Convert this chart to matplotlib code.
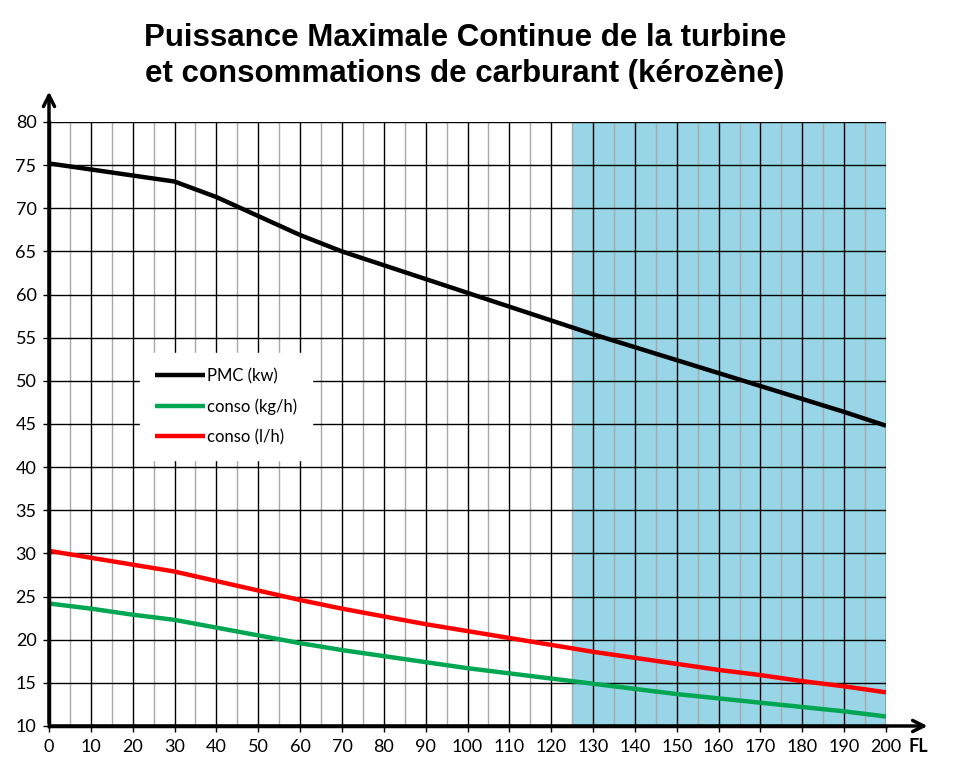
import matplotlib
matplotlib.use("Agg")
import matplotlib.pyplot as plt
from matplotlib import font_manager

fl = [0, 10, 20, 30, 40, 50, 60, 70, 80, 90, 100, 110, 120, 130, 140, 150, 160, 170, 180, 190, 200]
pmc_kw = [75.2, 74.5, 73.8, 73.1, 71.3, 69.1, 66.9, 65.0, 63.4, 61.8, 60.2, 58.6, 57.0, 55.4, 53.9, 52.4, 50.9, 49.4, 47.9, 46.4, 44.8]
conso_kgh = [24.2, 23.6, 22.9, 22.3, 21.4, 20.5, 19.6, 18.8, 18.1, 17.4, 16.7, 16.1, 15.5, 14.9, 14.3, 13.7, 13.2, 12.7, 12.2, 11.7, 11.1]
conso_lh = [30.3, 29.5, 28.7, 27.9, 26.8, 25.7, 24.6, 23.6, 22.7, 21.8, 21.0, 20.2, 19.4, 18.6, 17.9, 17.2, 16.5, 15.9, 15.2, 14.6, 13.9]
zone_start, zone_end = 125, 200
x_ticks = list(range(0, 201, 10))
y_ticks = list(range(10, 81, 5))
title = "Puissance Maximale Continue de la turbine\net consommations de carburant (kérozène)"

avail = {f.name for f in font_manager.fontManager.ttflist}
title_font = "Liberation Sans Narrow" if "Liberation Sans Narrow" in avail else "Liberation Sans"
tick_font = ["Lato", "DejaVu Sans"]

fig = plt.figure(figsize=(9.6, 7.68), dpi=100)
ax = fig.add_axes([49/960, 1-726/768, (886-49)/960, (726-122)/768])

ax.axvspan(zone_start, zone_end, color="#98d5e6", zorder=0, lw=0)

for v in range(5, 200, 10):
    ax.axvline(v, color="#a8a8a8", lw=1.0, zorder=1)
for v in range(10, 201, 10):
    ax.axvline(v, color="black", lw=1.0, zorder=1.2)
for h in range(15, 81, 5):
    ax.axhline(h, color="black", lw=1.0, zorder=1.2)

ax.plot(fl, pmc_kw, color="black", lw=3.2, label="PMC (kw)", zorder=3, solid_capstyle="butt")
ax.plot(fl, conso_kgh, color="#00a651", lw=3.2, label="conso (kg/h)", zorder=3, solid_capstyle="butt")
ax.plot(fl, conso_lh, color="#ff0000", lw=3.2, label="conso (l/h)", zorder=3, solid_capstyle="butt")

ax.set_xlim(0, 200)
ax.set_ylim(10, 80)
ax.set_xticks(x_ticks)
ax.set_yticks(y_ticks)
ax.tick_params(axis="both", length=4, width=1, labelsize=13, pad=5)
for lab in ax.get_xticklabels() + ax.get_yticklabels():
    lab.set_family(tick_font)

for s in ["top", "right"]:
    ax.spines[s].set_visible(False)
for s in ["left", "bottom"]:
    ax.spines[s].set_linewidth(2.5)
    ax.spines[s].set_zorder(4)

ax.annotate("", xy=(0, 1.055), xytext=(0, 0), xycoords="axes fraction",
            arrowprops=dict(arrowstyle="->,head_length=0.8,head_width=0.4", lw=2.5, color="black"),
            annotation_clip=False)
ax.annotate("", xy=(1.053, 0), xytext=(0, 0), xycoords="axes fraction",
            arrowprops=dict(arrowstyle="->,head_length=0.8,head_width=0.4", lw=2.5, color="black"),
            annotation_clip=False)

fig.text(918/960, 1-746/768, "FL", fontsize=13, fontweight="bold", family=tick_font,
         ha="center", va="center")

leg = ax.legend(loc="upper left", bbox_to_anchor=((140-49)/837, (726-353)/604),
                frameon=True, fancybox=False, framealpha=1, facecolor="white", edgecolor="white",
                handlelength=3.0, handletextpad=0.1, labelspacing=0.85, borderpad=0.9,
                borderaxespad=0.0,
                prop={"family": tick_font, "size": 12})
leg.set_zorder(2.5)

fig.text(465/960, 1-56/768, title, ha="center", va="center", fontsize=22.5,
         fontweight="bold", family=title_font, linespacing=1.3)

fig.savefig("out.png", dpi=100)
